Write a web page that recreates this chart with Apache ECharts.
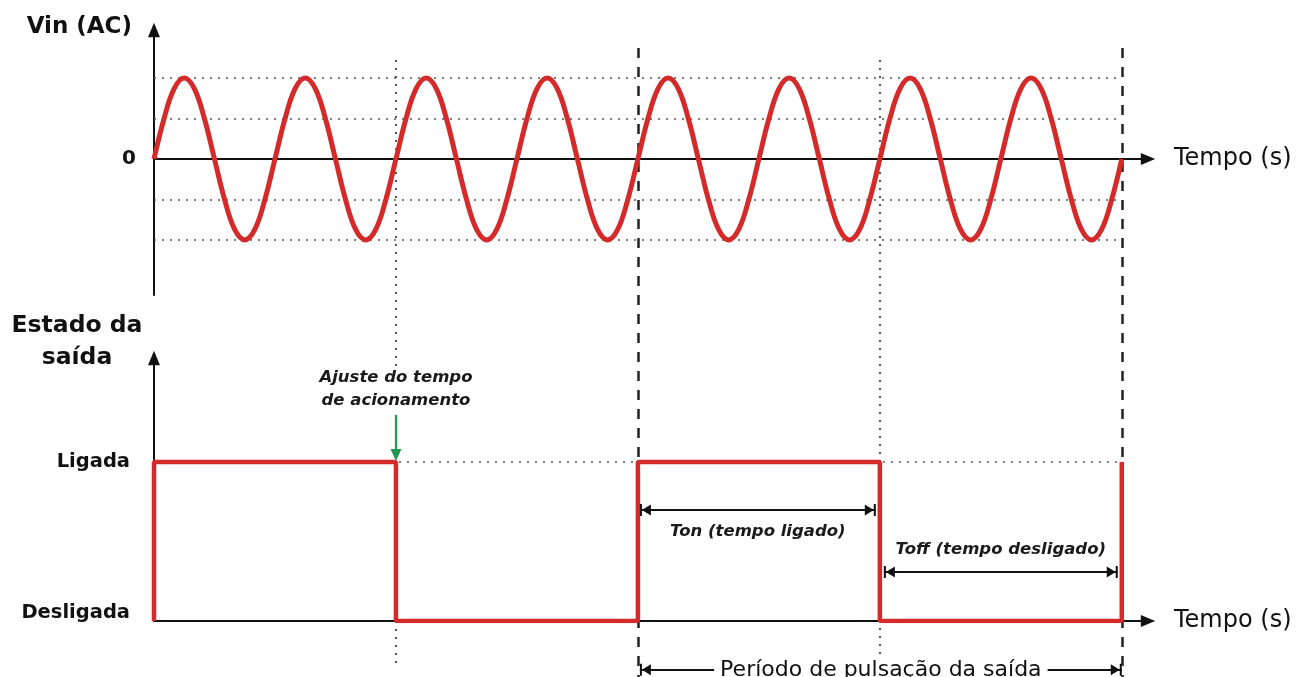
<!DOCTYPE html>
<html>
<head>
<meta charset="utf-8">
<script src="https://cdn.jsdelivr.net/npm/echarts@6.0.0/dist/echarts.min.js"></script>
<style>
  html, body { margin: 0; padding: 0; background: #fff; }
  #chart-container { width: 1303px; height: 677px; }
</style>
</head>
<body>
<div id="chart-container"></div>
<script>
// time axis unit: 1/12 of an AC period (8 periods = 96 units)
const vin = [
  0, 0.5, 0.87, 1, 0.87, 0.5, 0, -0.5, -0.87, -1, -0.87, -0.5,
  0, 0.5, 0.87, 1, 0.87, 0.5, 0, -0.5, -0.87, -1, -0.87, -0.5,
  0, 0.5, 0.87, 1, 0.87, 0.5, 0, -0.5, -0.87, -1, -0.87, -0.5,
  0, 0.5, 0.87, 1, 0.87, 0.5, 0, -0.5, -0.87, -1, -0.87, -0.5,
  0, 0.5, 0.87, 1, 0.87, 0.5, 0, -0.5, -0.87, -1, -0.87, -0.5,
  0, 0.5, 0.87, 1, 0.87, 0.5, 0, -0.5, -0.87, -1, -0.87, -0.5,
  0, 0.5, 0.87, 1, 0.87, 0.5, 0, -0.5, -0.87, -1, -0.87, -0.5,
  0, 0.5, 0.87, 1, 0.87, 0.5, 0, -0.5, -0.87, -1, -0.87, -0.5,
  0
];
const pulseTime = [0, 0, 24, 24, 48, 48, 72, 72, 96, 96];
const pulseState = [0, 1, 1, 0, 0, 1, 1, 0, 0, 1];
const stateLabels = ['Desligada', 'Ligada'];
const vinGuides = [1, 0.5, -0.5, -1];
const dottedMarks = [24, 72];   // ajuste / fim do Ton
const dashedMarks = [48, 96];   // inicio e fim do periodo

const RED = '#d42a2a';
const FONT = 'DejaVu Sans';
const arrowHead = 'path://M5,0L10,12L0,12Z';
const capArrow = 'path://M0,0L12,0L12,2.2L0,2.2ZM6,2.2L11.5,12L0.5,12Z';

const axisLineStyle = {
  show: true,
  symbol: ['none', arrowHead],
  symbolSize: [12, 15],
  lineStyle: { color: '#111', width: 2 }
};

const annot = {
  fontFamily: FONT, fontSize: 16.5, fontStyle: 'italic', fontWeight: 'bold', color: '#1a1a1a'
};

// little helper for the black measuring arrows
const measure = (x1, x2, y, text, pos, dist) => [
  { coord: [x1, y], symbol: capArrow, symbolSize: [12, 11], symbolOffset: [0, 5.5] },
  { coord: [x2, y], symbol: capArrow, symbolSize: [12, 11], symbolOffset: [0, 5.5],
    lineStyle: { color: '#111', width: 2, type: 'solid' },
    label: Object.assign({ show: true, position: pos, distance: dist, formatter: text }, annot)
  }
];

const myChart = echarts.init(document.getElementById('chart-container'));

const option = {
  animation: false,
  grid: [
    { left: 154, width: 994, top: 30, height: 265, outerBoundsMode: 'none' },
    { left: 154, width: 994, top: 358, height: 263, outerBoundsMode: 'none' },
    { left: 154, width: 994, top: 48, height: 629, outerBoundsMode: 'none' }
  ],
  xAxis: [
    {
      gridIndex: 0, type: 'value', min: 0, max: 98.6,
      axisLine: axisLineStyle, axisTick: { show: false }, axisLabel: { show: false }, splitLine: { show: false },
      name: 'Tempo (s)', nameLocation: 'end', nameGap: 26,
      nameTextStyle: { fontFamily: FONT, fontSize: 24, color: '#111', verticalAlign: 'middle', align: 'left' }
    },
    {
      gridIndex: 1, type: 'value', min: 0, max: 98.6,
      axisLine: axisLineStyle, axisTick: { show: false }, axisLabel: { show: false }, splitLine: { show: false },
      name: 'Tempo (s)', nameLocation: 'end', nameGap: 26,
      nameTextStyle: { fontFamily: FONT, fontSize: 24, color: '#111', verticalAlign: 'middle', align: 'left' }
    },
    { gridIndex: 2, type: 'value', min: 0, max: 98.6, show: false }
  ],
  yAxis: [
    {
      gridIndex: 0, type: 'value', min: -1.679, max: 1.593,
      axisLine: axisLineStyle, axisTick: { show: false }, splitLine: { show: false },
      axisLabel: {
        margin: 18, formatter: v => (v === 0 ? '0' : ''),
        fontFamily: FONT, fontSize: 20, fontWeight: 'bold', color: '#111'
      },
      name: 'Vin (AC)', nameLocation: 'end', nameGap: 3,
      nameTextStyle: {
        fontFamily: FONT, fontSize: 23, fontWeight: 'bold', color: '#111',
        align: 'right', verticalAlign: 'middle', padding: [0, 22, 0, 0]
      }
    },
    {
      gridIndex: 1, type: 'value', min: 0, max: 1.654, interval: 1,
      axisLine: axisLineStyle, axisTick: { show: false }, splitLine: { show: false },
      axisLabel: {
        margin: 24,
        formatter: v => (v === 0 ? '{off|' + stateLabels[0] + '}' : v === 1 ? stateLabels[1] : ''),
        fontFamily: FONT, fontSize: 19.5, fontWeight: 'bold', color: '#111',
        rich: { off: { fontFamily: FONT, fontSize: 19.5, fontWeight: 'bold', color: '#111', padding: [0, 0, 16, 0] } }
      },
      name: 'Estado da\nsaída', nameLocation: 'end', nameGap: 16,
      nameTextStyle: {
        fontFamily: FONT, fontSize: 23.5, fontWeight: 'bold', color: '#111', lineHeight: 32,
        align: 'center', verticalAlign: 'middle', padding: [0, 154, 0, 0]
      }
    },
    { gridIndex: 2, type: 'value', min: 0, max: 1, show: false }
  ],
  series: [
    {
      name: 'Vin',
      type: 'line',
      xAxisIndex: 0, yAxisIndex: 0,
      data: vin.map((v, i) => [i, v]),
      smooth: 0.4,
      showSymbol: false,
      lineStyle: { color: RED, width: 5 },
      markLine: {
        silent: true, z: 1, symbol: ['none', 'none'], label: { show: false },
        lineStyle: { color: '#555', width: 1.6, type: [2, 6] },
        data: vinGuides.map(g => [{ coord: [0, g] }, { coord: [96, g] }])
      }
    },
    {
      name: 'Saída',
      type: 'line',
      xAxisIndex: 1, yAxisIndex: 1,
      data: pulseTime.map((t, i) => [t, pulseState[i]]),
      showSymbol: false,
      lineStyle: { color: RED, width: 4.5 },
      markLine: {
        silent: true, symbol: ['none', 'none'], label: { show: false },
        lineStyle: { color: '#555', width: 1.6, type: [2, 6] },
        data: [
          [{ coord: [24.3, 1] }, { coord: [48, 1] }],
          [{ coord: [72.3, 1] }, { coord: [96, 1] }],
          [
            { coord: [24, 1.296], symbol: 'none' },
            { coord: [24, 1.044], symbol: arrowHead, symbolSize: [11, 12],
              lineStyle: { color: '#1f9a4f', width: 2.2, type: 'solid' },
              label: Object.assign({
                show: true, position: 'start', distance: 3,
                formatter: 'Ajuste do tempo\nde acionamento', lineHeight: 23
              }, annot)
            }
          ],
          measure(48.2, 71.6, 0.698, 'Ton (tempo ligado)', 'insideMiddleBottom', 13),
          measure(72.4, 95.6, 0.308, 'Toff (tempo desligado)', 'insideMiddleTop', 14)
        ]
      }
    },
    {
      name: 'Marcas',
      type: 'line',
      xAxisIndex: 2, yAxisIndex: 2,
      data: [],
      markLine: {
        silent: true, z: 1, symbol: ['none', 'none'], label: { show: false },
        data: [
          ...dottedMarks.map((t, i) => [
            { coord: [t, 0.981] },
            { coord: [t, i === 0 ? 0.488 : 0.019], lineStyle: { color: '#555', width: 2, type: [2, 6] } }
          ]),
          [{ coord: [24, 0.089] }, { coord: [24, 0.019], lineStyle: { color: '#555', width: 2, type: [2, 6] } }],
          ...dashedMarks.map(t => [
            { coord: [t, 1] },
            { coord: [t, 0], lineStyle: { color: '#222', width: 2.5, type: [10, 9] } }
          ]),
          [
            { coord: [48.2, 0.0114], symbol: capArrow, symbolSize: [12, 11], symbolOffset: [0, 5.5] },
            { coord: [96, 0.0114], symbol: capArrow, symbolSize: [12, 11], symbolOffset: [0, 5.5],
              lineStyle: { color: '#111', width: 2, type: 'solid' },
              label: {
                show: true, position: 'insideMiddle', formatter: 'Período de pulsação da saída',
                fontFamily: FONT, fontSize: 22, color: '#111', backgroundColor: '#fff', padding: [0, 6]
              }
            }
          ]
        ]
      }
    }
  ]
};

myChart.setOption(option);
</script>
</body>
</html>
